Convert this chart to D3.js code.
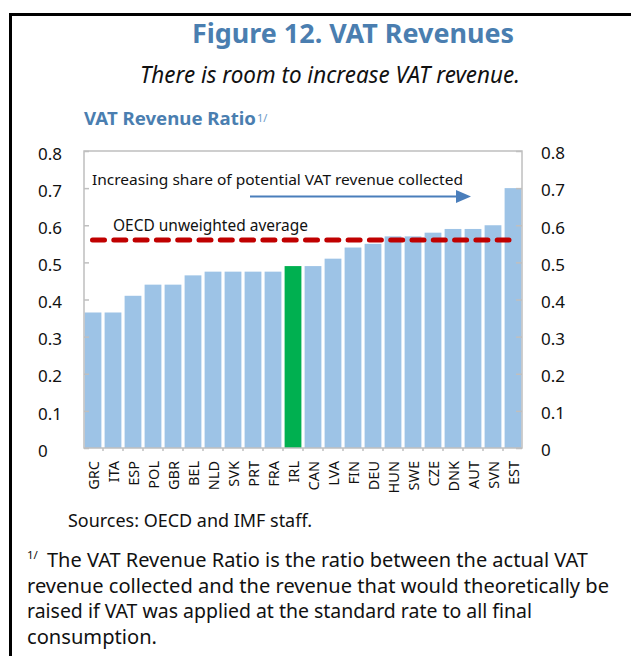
<!DOCTYPE html>
<html lang="en">
<head>
    <meta charset="UTF-8">
    <title>Figure 12. VAT Revenues</title>
    <script src="https://d3js.org/d3.v7.min.js"></script>
    <style>
        body { margin: 0; background: #fff; }
        svg { display: block; font-family: "Noto Sans", "Open Sans", sans-serif; }
        .tick line { stroke: #bfbfbf; stroke-width: 1.5; }
    </style>
</head>
<body>
<div id="fig"></div>
<script>
    // values
    let countries = ["GRC", "ITA", "ESP", "POL", "GBR", "BEL", "NLD", "SVK", "PRT", "FRA", "IRL",
        "CAN", "LVA", "FIN", "DEU", "HUN", "SWE", "CZE", "DNK", "AUT", "SVN", "EST"];
    let ratios = [0.365, 0.365, 0.41, 0.44, 0.44, 0.465, 0.475, 0.475, 0.475, 0.475, 0.49,
        0.49, 0.51, 0.54, 0.55, 0.57, 0.57, 0.58, 0.59, 0.59, 0.60, 0.70];
    let highlight = "IRL";
    let oecdAverage = 0.56;
    let yTicks = [0, 0.1, 0.2, 0.3, 0.4, 0.5, 0.6, 0.7, 0.8];

    let W = 631, H = 656;
    let pLeft = 84, pRight = 522, pTop = 151, pBottom = 448;

    let svg = d3.select("#fig").append("svg")
        .attr("width", W)
        .attr("height", H)

    // black frame on the left and top
    svg.append("path")
        .attr("d", `M10.5,${H} V14.5 H${W}`)
        .attr("fill", "none")
        .attr("stroke", "#000")
        .attr("stroke-width", 3)

    svg.append("text")
        .attr("x", 192).attr("y", 43)
        .attr("font-size", 27).attr("font-weight", "bold")
        .attr("fill", "#4a7eb0")
        .attr("textLength", 322).attr("lengthAdjust", "spacingAndGlyphs")
        .text("Figure 12. VAT Revenues")

    svg.append("text")
        .attr("x", 140).attr("y", 83)
        .attr("font-size", 23).attr("font-style", "italic")
        .attr("fill", "#111")
        .attr("textLength", 380).attr("lengthAdjust", "spacingAndGlyphs")
        .text("There is room to increase VAT revenue.")

    svg.append("text")
        .attr("x", 84).attr("y", 125)
        .attr("font-size", 17).attr("font-weight", "bold")
        .attr("fill", "#4a7eb0")
        .attr("textLength", 172).attr("lengthAdjust", "spacingAndGlyphs")
        .text("VAT Revenue Ratio")
    svg.append("text")
        .attr("x", 257).attr("y", 122)
        .attr("font-size", 11)
        .attr("fill", "#6a9ac8")
        .text("1/")

    let x = d3.scaleBand()
        .domain(countries)
        .range([pLeft, pRight])
        .paddingInner(0.16)
        .paddingOuter(0.03)

    let y = d3.scaleLinear()
        .domain([0, 0.8])
        .range([pBottom, pTop])

    let g = svg.append("g")

    g.selectAll("rect.bar")
        .data(countries)
        .join("rect")
        .attr("class", "bar")
        .attr("x", d => x(d))
        .attr("width", x.bandwidth())
        .attr("y", (d, i) => y(ratios[i]))
        .attr("height", (d, i) => y(0) - y(ratios[i]))
        .attr("fill", d => d === highlight ? "#00b050" : "#9dc3e6")

    // plot frame
    g.append("rect")
        .attr("x", pLeft).attr("y", pTop)
        .attr("width", pRight - pLeft).attr("height", pBottom - pTop)
        .attr("fill", "none")
        .attr("stroke", "#bfbfbf")
        .attr("stroke-width", 1.5)

    let fmt = d => d === 0 ? "0" : d.toFixed(1)

    let yl = g.append("g")
        .attr("transform", `translate(${pLeft},0)`)
        .call(d3.axisLeft(y).tickValues(yTicks).tickSize(-5).tickFormat(fmt))
    yl.select(".domain").remove()
    yl.selectAll("text")
        .attr("x", 38 - pLeft).attr("dy", "0.48em")
        .attr("text-anchor", "start")
        .attr("font-size", 17).attr("fill", "#111")
        .attr("font-family", "Noto Sans")

    let yr = g.append("g")
        .attr("transform", `translate(${pRight},0)`)
        .call(d3.axisRight(y).tickValues(yTicks).tickSize(-6).tickFormat(fmt))
    yr.select(".domain").remove()
    yr.selectAll("text")
        .attr("x", 541 - pRight).attr("dy", "0.46em")
        .attr("text-anchor", "start")
        .attr("font-size", 17).attr("fill", "#111")
        .attr("font-family", "Noto Sans")

    // small ticks between categories
    let step = x.step()
    g.selectAll("line.sep")
        .data(countries.slice(1))
        .join("line")
        .attr("class", "sep")
        .attr("x1", d => x(d) - (step - x.bandwidth()) / 2)
        .attr("x2", d => x(d) - (step - x.bandwidth()) / 2)
        .attr("y1", pBottom).attr("y2", pBottom + 3)
        .attr("stroke", "#bfbfbf").attr("stroke-width", 1.5)

    let xa = g.append("g")
        .attr("transform", `translate(0,${pBottom})`)
        .call(d3.axisBottom(x).tickSize(0))
    xa.select(".domain").remove()
    xa.selectAll("text")
        .attr("transform", "rotate(-90)")
        .attr("x", -13).attr("y", 1).attr("dy", "0.35em")
        .attr("text-anchor", "end")
        .attr("font-size", 14.5).attr("fill", "#111")
        .attr("font-family", "Noto Sans")

    // OECD average line
    g.append("line")
        .attr("x1", 92.5).attr("x2", 509)
        .attr("y1", y(oecdAverage)).attr("y2", y(oecdAverage))
        .attr("stroke", "#c00000")
        .attr("stroke-width", 5)
        .attr("stroke-linecap", "round")
        .attr("stroke-dasharray", "12,9.3")

    g.append("text")
        .attr("x", 113).attr("y", 231)
        .attr("font-size", 15.5).attr("fill", "#111")
        .attr("textLength", 195).attr("lengthAdjust", "spacingAndGlyphs")
        .text("OECD unweighted average")

    g.append("text")
        .attr("x", 92).attr("y", 185)
        .attr("font-size", 15).attr("fill", "#111")
        .attr("textLength", 371).attr("lengthAdjust", "spacingAndGlyphs")
        .text("Increasing share of potential VAT revenue collected")

    // arrow
    g.append("line")
        .attr("x1", 250).attr("x2", 458)
        .attr("y1", 196.5).attr("y2", 196.5)
        .attr("stroke", "#4a7ebb").attr("stroke-width", 2)
    g.append("path")
        .attr("d", "M456,190 L471,196.5 L456,203 Z")
        .attr("fill", "#4a7ebb")

    // notes
    svg.append("text")
        .attr("x", 68).attr("y", 527)
        .attr("font-size", 17.5).attr("fill", "#111")
        .attr("textLength", 244).attr("lengthAdjust", "spacingAndGlyphs")
        .text("Sources: OECD and IMF staff.")

    svg.append("text")
        .attr("x", 27).attr("y", 559)
        .attr("font-size", 11.5).attr("fill", "#111")
        .text("1/")

    let noteLines = [
        {x: 47, y: 567, w: 541, t: "The VAT Revenue Ratio is the ratio between the actual VAT"},
        {x: 27, y: 592.5, w: 582, t: "revenue collected and the revenue that would theoretically be"},
        {x: 27, y: 618, w: 505, t: "raised if VAT was applied at the standard rate to all final"},
        {x: 27, y: 643.5, w: 130, t: "consumption."}
    ]
    svg.selectAll("text.note")
        .data(noteLines)
        .join("text")
        .attr("class", "note")
        .attr("x", d => d.x).attr("y", d => d.y)
        .attr("font-size", 20).attr("fill", "#111")
        .attr("textLength", d => d.w).attr("lengthAdjust", "spacingAndGlyphs")
        .text(d => d.t)
</script>
</body>
</html>
